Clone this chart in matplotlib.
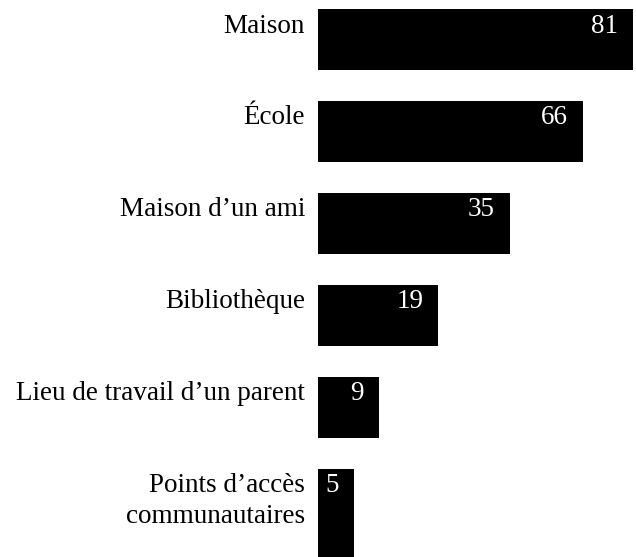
import matplotlib.pyplot as plt
from matplotlib import transforms

categories = ["Maison", "École", "Maison d’un ami", "Bibliothèque",
              "Lieu de travail d’un parent", "Points d’accès\ncommunautaires"]
values = [81, 66, 35, 19, 9, 5]
# bar lengths as drawn in the picture (not linear in the printed values)
bar_lengths = [81, 68.1, 49.4, 30.9, 15.7, 9.3]

plt.rcParams['font.family'] = ['Liberation Serif', 'DejaVu Serif']

fig = plt.figure(figsize=(6.36, 5.57), dpi=100)
ax = fig.add_axes([318 / 636, 0, 318 / 636, 1])
ax.set_xlim(0, 81.8)
ax.set_ylim(5.63, -0.43)
ax.axis('off')

tops = [i - 0.332 for i in range(len(categories))]
heights = [0.664] * (len(categories) - 1) + [1.0]
ax.barh(tops, bar_lengths, height=heights, align='edge', color='black')

fs = 19.5
line_px = 31
for top, cat, v, L in zip(tops, categories, values, bar_lengths):
    # each text line on its own baseline, first one ~23px below the bar top
    for k, line in enumerate(cat.split('\n')):
        tr = transforms.offset_copy(ax.transData, fig=fig, x=-13,
                                    y=-23.5 - k * line_px, units='dots')
        ax.text(0, top, line, transform=tr, ha='right', va='baseline',
                fontsize=fs, color='black', clip_on=False)
    tr = transforms.offset_copy(ax.transData, fig=fig, x=-15, y=-23.5, units='dots')
    ax.text(L, top, str(v), transform=tr, ha='right', va='baseline',
            fontsize=fs, color='white')

fig.savefig('out.png', dpi=100)
